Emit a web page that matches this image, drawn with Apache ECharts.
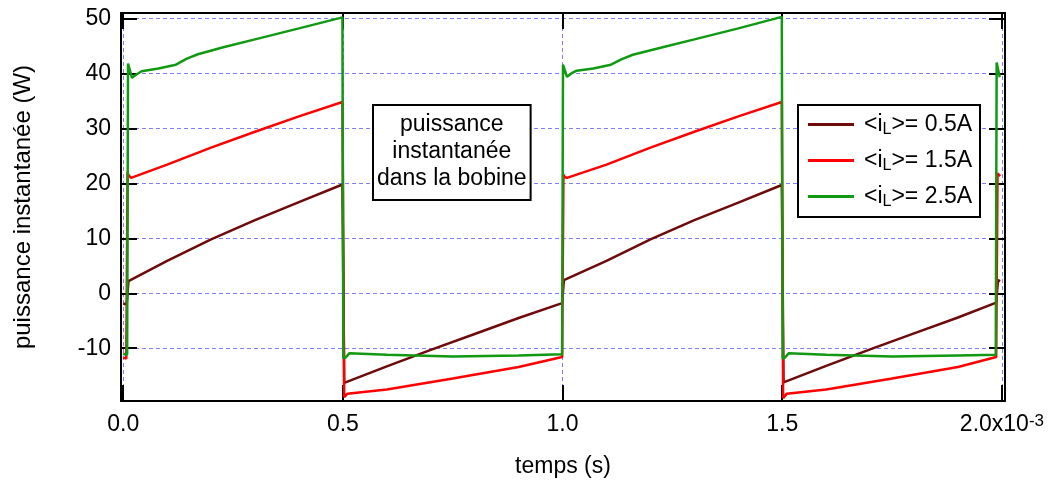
<!DOCTYPE html>
<html>
<head>
<meta charset="utf-8">
<script src="https://cdn.jsdelivr.net/npm/echarts@6/dist/echarts.min.js"></script>
<style>
html, body { margin: 0; padding: 0; background: #fff; }
#main { width: 1050px; height: 486px; }
</style>
</head>
<body>
<div id="main"></div>
<script>
// temps en ms (axe affiché en s avec x10^-3)
let xTicks = [0, 0.5, 1, 1.5, 2];
let yTicks = [-10, 0, 10, 20, 30, 40, 50];
let names = ['<iL>= 0.5A', '<iL>= 1.5A', '<iL>= 2.5A'];

// <iL> = 0.5A
let t05 = [0, 0.008, 0.012, 0.1, 0.2, 0.3, 0.4, 0.499, 0.503, 0.6, 0.7, 0.8, 0.9, 0.999,
    1.003, 1.1, 1.2, 1.3, 1.4, 1.499, 1.503, 1.6, 1.7, 1.8, 1.9, 1.987, 1.991, 1.996];
let p05 = [-1.9, -2.0, 2.2, 5.9, 9.8, 13.3, 16.6, 19.8, -16.3, -13.3, -10.3, -7.4, -4.5, -1.8,
    2.4, 5.9, 9.8, 13.3, 16.5, 19.7, -16.2, -13.2, -10.2, -7.3, -4.4, -1.7, 2.4, 2.2];

// <iL> = 1.5A
let t15 = [0, 0.007, 0.010, 0.012, 0.018, 0.1, 0.2, 0.3, 0.4, 0.499, 0.503, 0.51, 0.6, 0.75, 0.9, 0.999,
    1.002, 1.004, 1.01, 1.1, 1.2, 1.3, 1.4, 1.499, 1.502, 1.51, 1.6, 1.75, 1.9, 1.987, 1.990, 1.996];
let p15 = [-11.7, -11.9, 22.0, 21.5, 21.0, 23.4, 26.5, 29.4, 32.2, 34.8, -18.9, -18.3, -17.5, -15.5, -13.4, -11.6,
    21.6, 21.2, 21.0, 23.4, 26.5, 29.4, 32.2, 34.8, -19.1, -18.3, -17.5, -15.5, -13.4, -11.6, 21.8, 21.3];

// <iL> = 2.5A
let t25 = [0, 0.009, 0.011, 0.02, 0.03, 0.042, 0.08, 0.12, 0.145, 0.17, 0.23, 0.3, 0.4, 0.499,
    0.501, 0.506, 0.515, 0.6, 0.75, 0.9, 0.999,
    1.001, 1.01, 1.02, 1.032, 1.07, 1.11, 1.135, 1.16, 1.23, 1.3, 1.4, 1.499,
    1.501, 1.506, 1.515, 1.6, 1.75, 1.9, 1.986,
    1.988, 1.995];
let p25 = [-11.0, -11.2, 41.8, 39.2, 39.8, 40.4, 40.9, 41.6, 42.7, 43.5, 44.8, 46.2, 48.2, 50.2,
    -11.8, -11.7, -10.9, -11.2, -11.5, -11.3, -11.1,
    41.6, 39.4, 40.0, 40.5, 40.9, 41.6, 42.6, 43.4, 44.8, 46.2, 48.2, 50.3,
    -11.9, -11.7, -10.9, -11.2, -11.5, -11.3, -11.2,
    42.0, 39.3];

function zip(t, p) {
    return t.map(function (v, i) { return [v, p[i]]; });
}

let font = 'Liberation Sans';
let gridLine = { show: true, lineStyle: { color: '#8080ff', width: 1, type: [4, 3] } };
let frameLine = { show: true, onZero: false, lineStyle: { color: '#000', width: 2 } };

let myChart = echarts.init(document.getElementById('main'));
let option = {
    backgroundColor: '#fff',
    animation: false,
    color: ['#6e0a0a', '#ff0000', '#119911'],
    grid: { left: 121, right: 45, top: 13, bottom: 85 },
    xAxis: [
        {
            type: 'value',
            min: -0.005,
            max: 2.007,
            position: 'bottom',
            axisLine: frameLine,
            axisTick: { show: true, inside: true, length: 16, customValues: xTicks, lineStyle: { color: '#000', width: 2 } },
            axisLabel: {
                customValues: xTicks,
                color: '#000',
                fontSize: 23,
                fontFamily: font,
                margin: 12,
                formatter: function (v) {
                    return v === 2 ? '2.0x10{sup|-3}' : v.toFixed(1);
                },
                rich: {
                    sup: { fontSize: 17, fontFamily: font, color: '#000', verticalAlign: 'top' }
                }
            },
            splitLine: gridLine,
            name: 'temps (s)',
            nameLocation: 'middle',
            nameGap: 54,
            nameTextStyle: { color: '#000', fontSize: 23, fontFamily: font }
        },
        {
            type: 'value',
            min: -0.005,
            max: 2.007,
            position: 'top',
            axisLine: frameLine,
            axisTick: { show: true, inside: true, length: 16, customValues: xTicks, lineStyle: { color: '#000', width: 2 } },
            axisLabel: { show: false },
            splitLine: { show: false }
        }
    ],
    yAxis: [
        {
            type: 'value',
            min: -19.6,
            max: 51,
            position: 'left',
            axisLine: frameLine,
            axisTick: { show: true, inside: true, length: 16, customValues: yTicks, lineStyle: { color: '#000', width: 2 } },
            axisLabel: { customValues: yTicks, color: '#000', fontSize: 23, fontFamily: font, margin: 10 },
            splitLine: gridLine,
            name: 'puissance instantanée (W)',
            nameLocation: 'middle',
            nameGap: 86,
            nameRotate: 90,
            nameTextStyle: { color: '#000', fontSize: 24, fontFamily: font }
        },
        {
            type: 'value',
            min: -19.6,
            max: 51,
            position: 'right',
            axisLine: frameLine,
            axisTick: { show: true, inside: true, length: 16, customValues: yTicks, lineStyle: { color: '#000', width: 2 } },
            axisLabel: { show: false },
            splitLine: { show: false }
        }
    ],
    legend: {
        orient: 'vertical',
        left: 798,
        top: 105,
        data: names,
        icon: 'rect',
        itemWidth: 46,
        itemHeight: 3,
        itemGap: 11,
        backgroundColor: '#fff',
        borderColor: '#000',
        borderWidth: 2,
        borderRadius: 0,
        padding: [8, 8, 7, 10],
        formatter: function (n) {
            return n.replace('iL', 'i{sub|L}');
        },
        textStyle: {
            color: '#000',
            fontSize: 23,
            fontFamily: font,
            padding: [0, 0, 0, 5],
            rich: {
                sub: { fontSize: 16, fontFamily: font, color: '#000', padding: [11, 0, 0, 0] }
            }
        }
    },
    graphic: [
        {
            type: 'text',
            left: 372,
            top: 104,
            z: 100,
            style: {
                text: 'puissance\ninstantanée\ndans la bobine',
                font: '23px "Liberation Sans"',
                fill: '#000',
                align: 'center',
                textAlign: 'center',
                lineHeight: 27,
                padding: [5, 3, 7, 3],
                backgroundColor: '#fff',
                borderColor: '#000',
                borderWidth: 2
            }
        }
    ],
    series: [
        {
            name: names[0],
            type: 'line',
            showSymbol: false,
            symbol: 'none',
            lineStyle: { width: 2.5 },
            data: zip(t05, p05)
        },
        {
            name: names[1],
            type: 'line',
            showSymbol: false,
            symbol: 'none',
            lineStyle: { width: 2.5 },
            data: zip(t15, p15)
        },
        {
            name: names[2],
            type: 'line',
            showSymbol: false,
            symbol: 'none',
            lineStyle: { width: 2.5 },
            data: zip(t25, p25)
        }
    ]
};
myChart.setOption(option);
</script>
</body>
</html>
